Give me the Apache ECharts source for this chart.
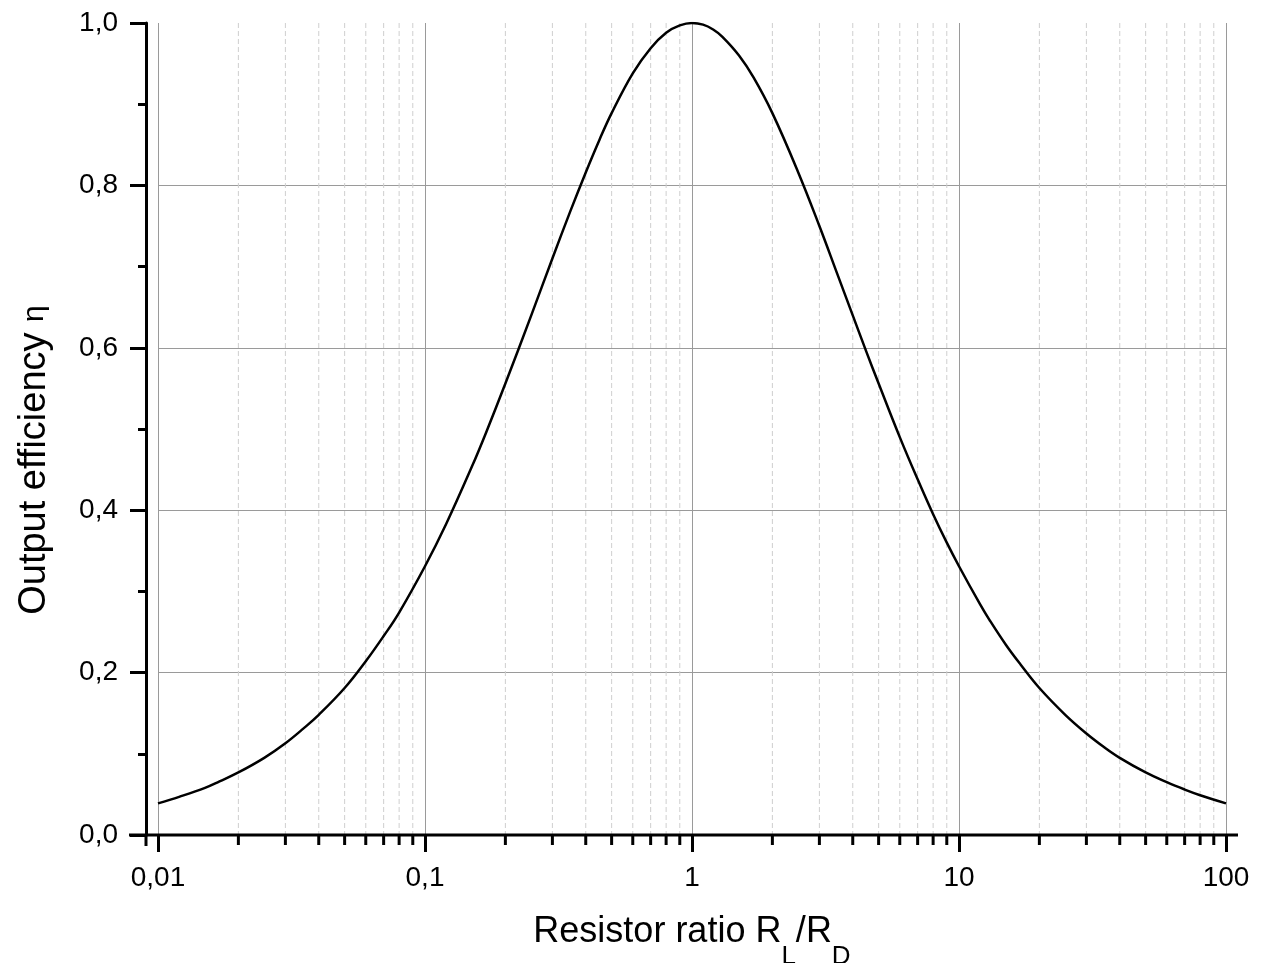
<!DOCTYPE html>
<html>
<head>
<meta charset="utf-8">
<script src="https://cdn.jsdelivr.net/npm/echarts@6/dist/echarts.min.js"></script>
<style>
html, body { margin: 0; padding: 0; background: #fff; }
#main { width: 1264px; height: 963px; }
</style>
</head>
<body>
<div id="main"></div>
<script>
// resistor ratio R_L/R_D and output efficiency
var ratio = [0.01, 0.012, 0.015, 0.017, 0.02, 0.025, 0.03, 0.035, 0.04, 0.05, 0.06, 0.07, 0.08, 0.1, 0.12, 0.15, 0.17,
	0.2, 0.25, 0.3, 0.35, 0.4, 0.45, 0.5, 0.6, 0.7, 0.8, 0.9,
	1, 1.1, 1.2, 1.3, 1.5, 1.7, 2, 2.5, 3, 3.5, 4, 4.5, 5, 6, 7, 8, 9,
	10, 12, 13, 15, 17, 20, 25, 30, 35, 40, 50, 60, 70, 80, 100];
var efficiency = [0.039, 0.047, 0.058, 0.066, 0.077, 0.095, 0.113, 0.131, 0.148, 0.181, 0.214, 0.245, 0.274, 0.331, 0.383, 0.454, 0.497,
	0.556, 0.64, 0.71, 0.768, 0.816, 0.856, 0.889, 0.938, 0.969, 0.988, 0.997,
	1.0, 0.998, 0.992, 0.983, 0.96, 0.933, 0.889, 0.816, 0.75, 0.691, 0.64, 0.595, 0.556, 0.49, 0.438, 0.395, 0.36,
	0.331, 0.284, 0.265, 0.234, 0.21, 0.181, 0.148, 0.125, 0.108, 0.095, 0.077, 0.065, 0.056, 0.049, 0.039];

// minor positions on the log axis (dashed grid + small ticks)
var minorX = [0.02, 0.03, 0.04, 0.05, 0.06, 0.07, 0.08, 0.09,
	0.2, 0.3, 0.4, 0.5, 0.6, 0.7, 0.8, 0.9,
	2, 3, 4, 5, 6, 7, 8, 9,
	20, 30, 40, 50, 60, 70, 80, 90];

var yTicks = [0, 0.2, 0.4, 0.6, 0.8, 1.0];

var font = '"Liberation Sans", Arial, sans-serif';

var myChart = echarts.init(document.getElementById('main'));

var curve = [];
for (var i = 0; i < ratio.length; i++) {
	curve.push([ratio[i], efficiency[i]]);
}

var option = {
	animation: false,
	backgroundColor: '#fff',
	grid: {
		left: 158,
		right: 38,
		top: 23,
		bottom: 128,
		outerBoundsMode: 'none',
		containLabel: false
	},
	xAxis: {
		type: 'log',
		logBase: 10,
		min: 0.01,
		max: 100,
		splitNumber: 4,
		name: '{a|Resistor ratio R}{s|L}{a|/R}{s|D}',
		nameLocation: 'middle',
		nameGap: 79,
		nameTextStyle: {
			rich: {
				a: { fontFamily: font, fontSize: 36, color: '#000', verticalAlign: 'top', lineHeight: 40 },
				s: { fontFamily: font, fontSize: 26, color: '#000', verticalAlign: 'top', lineHeight: 26, padding: [30, 0, 0, 0] }
			}
		},
		axisLine: { show: false },
		axisTick: {
			show: true,
			inside: false,
			length: 17,
			lineStyle: { color: '#000', width: 3 }
		},
		axisLabel: {
			margin: 29,
			fontFamily: font,
			fontSize: 28,
			color: '#000',
			formatter: function (v) {
				return String(Number(v.toPrecision(6))).replace('.', ',');
			}
		},
		splitLine: {
			show: true,
			lineStyle: { color: '#9a9a9a', width: 1 }
		}
	},
	yAxis: {
		type: 'value',
		min: yTicks[0],
		max: yTicks[yTicks.length - 1],
		interval: 0.2,
		offset: 12,
		name: '{a|Output efficiency }{e|η}',
		nameLocation: 'middle',
		nameGap: 92,
		nameTextStyle: {
			padding: [0, 62, 0, 0],
			rich: {
				a: { fontFamily: font, fontSize: 38, color: '#000' },
				e: { fontFamily: font, fontSize: 30, color: '#000' }
			}
		},
		axisLine: {
			show: true,
			lineStyle: { color: '#000', width: 3 }
		},
		axisTick: {
			show: true,
			inside: false,
			length: 16,
			lineStyle: { color: '#000', width: 3 }
		},
		minorTick: {
			show: true,
			splitNumber: 2,
			length: 8,
			lineStyle: { color: '#000', width: 3 }
		},
		axisLabel: {
			margin: 28,
			fontFamily: font,
			fontSize: 28,
			color: '#000',
			formatter: function (v) {
				return v.toFixed(1).replace('.', ',');
			}
		},
		splitLine: {
			show: true,
			showMinLine: false,
			showMaxLine: false,
			lineStyle: { color: '#9a9a9a', width: 1 }
		}
	},
	graphic: [{
		type: 'line',
		z: 100,
		shape: { x1: 129, y1: 835, x2: 1238, y2: 835 },
		style: { stroke: '#000', lineWidth: 3 }
	}, {
		type: 'line',
		z: 100,
		shape: { x1: 146, y1: 835, x2: 146, y2: 846 },
		style: { stroke: '#000', lineWidth: 3 }
	}],
	series: [{
		type: 'custom',
		silent: true,
		z: 1,
		data: minorX.map(function (v) { return [v, 0]; }),
		renderItem: function (params, api) {
			var x = api.value(0);
			var top = api.coord([x, 1]);
			var bot = api.coord([x, 0]);
			return {
				type: 'group',
				children: [{
					type: 'line',
					shape: { x1: top[0], y1: top[1], x2: bot[0], y2: bot[1] },
					style: { stroke: '#cfcfcf', lineWidth: 1, lineDash: [5, 3] }
				}, {
					type: 'line',
					shape: { x1: bot[0], y1: bot[1], x2: bot[0], y2: bot[1] + 10 },
					style: { stroke: '#000', lineWidth: 3 }
				}]
			};
		}
	}, {
		type: 'line',
		z: 5,
		data: curve,
		smooth: 0.4,
		showSymbol: false,
		symbol: 'none',
		lineStyle: { color: '#000', width: 2.5 }
	}]
};
myChart.setOption(option);
</script>
</body>
</html>
